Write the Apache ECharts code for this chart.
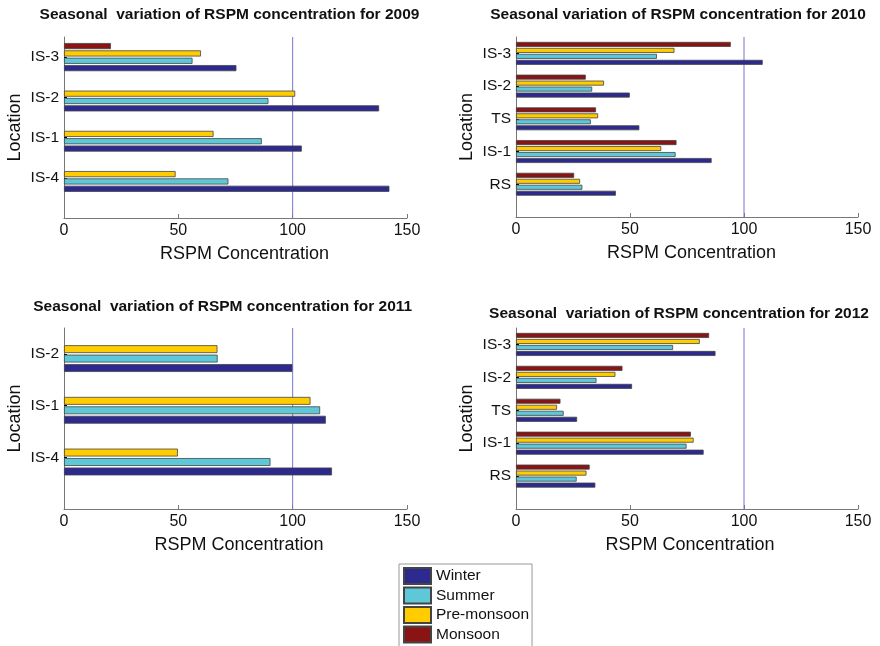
<!DOCTYPE html>
<html>
<head>
<meta charset="utf-8">
<script src="https://cdn.jsdelivr.net/npm/echarts@6/dist/echarts.min.js"></script>
<style>html,body{margin:0;padding:0;background:#fff;}#main{width:880px;height:646px;}</style>
</head>
<body>
<div id="main"></div>
<script>
// ---- data ----
const seasons = ['Winter', 'Summer', 'Pre-monsoon', 'Monsoon'];
const xTicks = [0, 50, 100, 150];
const limitValue = 100;

const loc2009 = ['IS-4', 'IS-1', 'IS-2', 'IS-3'];
const winter2009 = [142.3, 104.0, 137.8, 75.4];
const summer2009 = [71.9, 86.5, 89.4, 56.2];
const premon2009 = [48.8, 65.4, 101.1, 59.9];
const monsoon2009 = [null, null, null, 20.5];

const loc2010 = ['RS', 'IS-1', 'TS', 'IS-2', 'IS-3'];
const winter2010 = [43.8, 85.8, 54.1, 49.9, 108.2];
const summer2010 = [29.1, 70.0, 32.8, 33.4, 61.8];
const premon2010 = [28.1, 63.7, 36.0, 38.6, 69.5];
const monsoon2010 = [25.5, 70.4, 35.1, 30.6, 94.2];

const loc2011 = ['IS-4', 'IS-1', 'IS-2'];
const winter2011 = [117.2, 114.5, 99.9];
const summer2011 = [90.3, 112.0, 67.2];
const premon2011 = [49.8, 107.8, 67.1];
const monsoon2011 = [null, null, null];

const loc2012 = ['RS', 'IS-1', 'TS', 'IS-2', 'IS-3'];
const winter2012 = [34.8, 82.3, 26.8, 50.9, 87.5];
const summer2012 = [26.6, 74.8, 20.9, 35.3, 68.9];
const premon2012 = [30.9, 77.9, 18.0, 43.6, 80.6];
const monsoon2012 = [32.3, 76.7, 19.5, 46.7, 84.7];

const titles = [
  'Seasonal  variation of RSPM concentration for 2009',
  'Seasonal variation of RSPM concentration for 2010',
  'Seasonal  variation of RSPM concentration for 2011',
  'Seasonal  variation of RSPM concentration for 2012'
];

// ---- layout / style ----
const colors = ['#2d2a8f', '#5ec8d8', '#ffcc00', '#8a1414'];
const FONT = 'Liberation Sans, Arial, sans-serif';
const panels = [
  { loc: loc2009, vals: [winter2009, summer2009, premon2009, monsoon2009], L: 64, R: 407, T: 37, B: 218, tx: 229.5, ty: 15, nameShift: 18 },
  { loc: loc2010, vals: [winter2010, summer2010, premon2010, monsoon2010], L: 516, R: 858, T: 37, B: 217, tx: 678, ty: 15, nameShift: 9 },
  { loc: loc2011, vals: [winter2011, summer2011, premon2011, monsoon2011], L: 64, R: 407, T: 328, B: 509, tx: 222.7, ty: 306.7, nameShift: 7 },
  { loc: loc2012, vals: [winter2012, summer2012, premon2012, monsoon2012], L: 516, R: 858, T: 328, B: 509, tx: 679, ty: 313.3, nameShift: 6 }
];
const W = 880, H = 646;

const grid = [], xAxis = [], yAxis = [], series = [], graphic = [];
panels.forEach((p, i) => {
  const n = p.loc.length;
  const band = (p.B - p.T) / (n + 0.5);
  grid.push({ left: p.L, right: W - p.R, top: p.T, bottom: H - p.B, containLabel: false });
  grid.push({ left: p.L, right: W - p.R, top: p.T, bottom: H - (p.B - band * 0.5), containLabel: false });
  const fx = 2 * i, bx = 2 * i + 1;
  xAxis.push({
    gridIndex: fx, type: 'value', min: xTicks[0], max: xTicks[xTicks.length - 1], interval: xTicks[1] - xTicks[0],
    name: 'RSPM Concentration', nameLocation: 'middle', nameGap: 27,
    nameTextStyle: { fontSize: 18, color: '#111', fontFamily: FONT, padding: [0, 0, 0, p.nameShift] },
    axisLine: { show: true, lineStyle: { color: '#777', width: 1 } },
    axisTick: { show: true, inside: true, length: 4, lineStyle: { color: '#777' } },
    axisLabel: { fontSize: 16, color: '#111', fontFamily: FONT, margin: 5 },
    splitLine: { show: false }
  });
  xAxis.push({
    gridIndex: bx, type: 'value', min: xTicks[0], max: xTicks[xTicks.length - 1], show: false, splitLine: { show: false }
  });
  yAxis.push({
    gridIndex: fx, type: 'value', min: 0, max: n + 0.5,
    name: 'Location', nameLocation: 'middle', nameGap: 40,
    nameTextStyle: { fontSize: 18, color: '#111', fontFamily: FONT },
    axisLine: { show: true, lineStyle: { color: '#777', width: 1 } },
    axisTick: { show: false }, axisLabel: { show: false }, splitLine: { show: false }
  });
  yAxis.push({
    gridIndex: bx, type: 'category', data: p.loc,
    axisLine: { show: false },
    axisTick: { show: true, inside: true, alignWithLabel: true, length: 3, lineStyle: { color: '#000' } },
    axisLabel: { fontSize: 15.5, color: '#111', fontFamily: FONT, margin: 5, padding: [3, 0, 0, 0] },
    splitLine: { show: false }
  });
  // Horizontal category axis lays series out top-to-bottom, so add Monsoon first
  // to keep Winter at the bottom of each group.
  for (let k = p.vals.length - 1; k >= 0; k--) {
    series.push({
      type: 'bar', name: seasons[k], xAxisIndex: bx, yAxisIndex: bx, data: p.vals[k],
      barCategoryGap: '30%', barGap: '20%',
      itemStyle: { color: colors[k], borderColor: '#444', borderWidth: 0.8 },
      silent: true, animation: false
    });
  }
  series.push({
    type: 'line', xAxisIndex: fx, yAxisIndex: fx, data: [[limitValue, 0], [limitValue, n + 0.5]],
    symbol: 'none', lineStyle: { color: '#7673d4', width: 1 }, silent: true, animation: false, z: 1
  });
  graphic.push({
    type: 'text', x: p.tx, y: p.ty,
    style: { text: titles[i], fontSize: 15.5, fontWeight: 'bold', fill: '#111', fontFamily: FONT, textAlign: 'center', textVerticalAlign: 'middle' }
  });
});

const chart = echarts.init(document.getElementById('main'), null, { renderer: 'canvas' });
chart.setOption({
  backgroundColor: '#fff',
  animation: false,
  grid, xAxis, yAxis, series, graphic,
  legend: {
    data: seasons, orient: 'vertical', left: 399, top: 564, height: 110,
    itemWidth: 27, itemHeight: 16, itemGap: 1.5, padding: [3, 3, 3, 4],
    borderColor: '#999', borderWidth: 1, backgroundColor: '#fff',
    selectedMode: false, icon: 'rect',
    textStyle: { fontSize: 15.5, color: '#111', fontFamily: FONT }
  }
});
</script>
</body>
</html>
